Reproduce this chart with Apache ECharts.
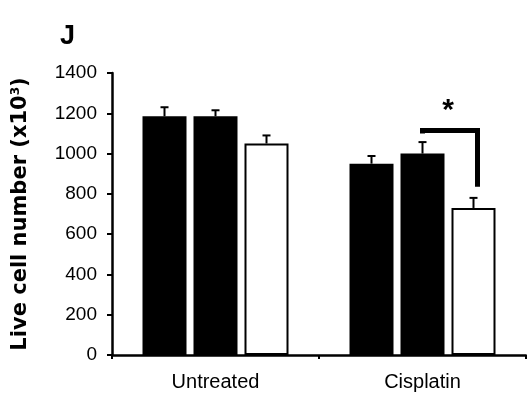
<!DOCTYPE html>
<html><head><meta charset="utf-8">
<script src="https://cdn.jsdelivr.net/npm/echarts@6/dist/echarts.min.js"></script>
<style>html,body{margin:0;padding:0;background:#fff}#c{width:527px;height:400px}</style>
</head><body><div id="c"></div>
<script>
var categories = ['Untreated', 'Cisplatin'];
var seriesA = [1185, 950];
var seriesB = [1185, 1000];
var seriesC = [1050, 730];
var errA = [45, 38];
var errB = [30, 57];
var errC = [40, 50];
var yTicks = [0, 200, 400, 600, 800, 1000, 1200, 1400];
// significance bracket between seriesB and seriesC at Cisplatin
var bracketTop = 1115;
var bracketLeftEnd = 1100;
var bracketRightEnd = 835;
var starValue = 1215;

var BW = 44, GAP = 7, STEP = BW + GAP;
var font = 'Liberation Sans, Arial, sans-serif';
var nameFont = 'DejaVu Sans, sans-serif';

function errSeries(vals, errs, off) {
  return {
    type: 'custom',
    data: vals.map(function (v, i) { return [i, v, errs[i]]; }),
    z: 1,
    renderItem: function (params, api) {
      var c = api.coord([api.value(0), api.value(1)]);
      var t = api.coord([api.value(0), api.value(1) + api.value(2)]);
      var x = c[0] + off;
      return {
        type: 'group',
        children: [
          { type: 'line', shape: { x1: x, y1: c[1], x2: x, y2: t[1] }, style: { stroke: '#000', lineWidth: 2 } },
          { type: 'line', shape: { x1: x - 4, y1: t[1], x2: x + 4, y2: t[1] }, style: { stroke: '#000', lineWidth: 2 } }
        ]
      };
    }
  };
}

var chart = echarts.init(document.getElementById('c'));
chart.setOption({
  animation: false,
  backgroundColor: '#fff',
  title: { text: 'J', left: 55, top: 18, textStyle: { fontFamily: font, fontSize: 27, fontWeight: 'bold', color: '#000' } },
  grid: { left: 112, right: 1, top: 73, bottom: 45 },
  xAxis: {
    type: 'category', data: categories,
    axisLine: { lineStyle: { color: '#000', width: 2.5 } },
    axisTick: { show: true, length: 4, lineStyle: { color: '#000', width: 2 } },
    axisLabel: { fontFamily: font, fontSize: 20, color: '#000', margin: 17 }
  },
  yAxis: {
    type: 'value', min: 0, max: 1400, interval: 200,
    name: '{n|Live cell number (x10}{s|3}{n|)}',
    nameLocation: 'middle', nameGap: 80, nameRotate: 90,
    nameTextStyle: {
      rich: {
        n: { fontFamily: nameFont, fontSize: 21, fontWeight: 'bold', color: '#000' },
        s: { fontFamily: nameFont, fontSize: 12, fontWeight: 'bold', color: '#000', verticalAlign: 'top', padding: [0, 0, 10, 0] }
      }
    },
    axisLine: { show: true, lineStyle: { color: '#000', width: 2.5 } },
    axisTick: { show: true, length: 5, lineStyle: { color: '#000', width: 2 } },
    axisLabel: { fontFamily: font, fontSize: 19, color: '#000', margin: 15,
      formatter: function (v) { return yTicks.indexOf(v) >= 0 ? String(v) : ''; } },
    splitLine: { show: false }
  },
  series: [
    { type: 'bar', data: seriesA, barWidth: BW, barGap: (GAP / BW * 100) + '%', itemStyle: { color: '#000' }, z: 2 },
    { type: 'bar', data: seriesB, barWidth: BW, itemStyle: { color: '#000' }, z: 2 },
    { type: 'bar', data: seriesC, barWidth: BW, itemStyle: { color: '#fff', borderColor: '#000', borderWidth: 2 }, z: 2 },
    errSeries(seriesA, errA, -STEP),
    errSeries(seriesB, errB, 0),
    errSeries(seriesC, errC, STEP),
    {
      type: 'custom', data: [[1, bracketTop]], z: 3,
      renderItem: function (params, api) {
        var cat = api.value(0);
        var xl = api.coord([cat, 0])[0];
        var xr = xl + STEP + 4;
        var yt = api.coord([cat, bracketTop])[1];
        var yl = api.coord([cat, bracketLeftEnd])[1];
        var yr = api.coord([cat, bracketRightEnd])[1];
        var ys = api.coord([cat, starValue])[1];
        return {
          type: 'group',
          children: [
            { type: 'polyline', shape: { points: [[xl, yl], [xl, yt], [xr, yt], [xr, yr]] },
              style: { stroke: '#000', lineWidth: 5, fill: null, lineJoin: 'miter' } },
            { type: 'text', x: (xl + xr) / 2 - 2, y: ys,
              style: { text: '*', fontFamily: font, fontSize: 30, fontWeight: 'bold', fill: '#000', align: 'center', verticalAlign: 'middle' } }
          ]
        };
      }
    }
  ]
});
</script>
</body></html>
